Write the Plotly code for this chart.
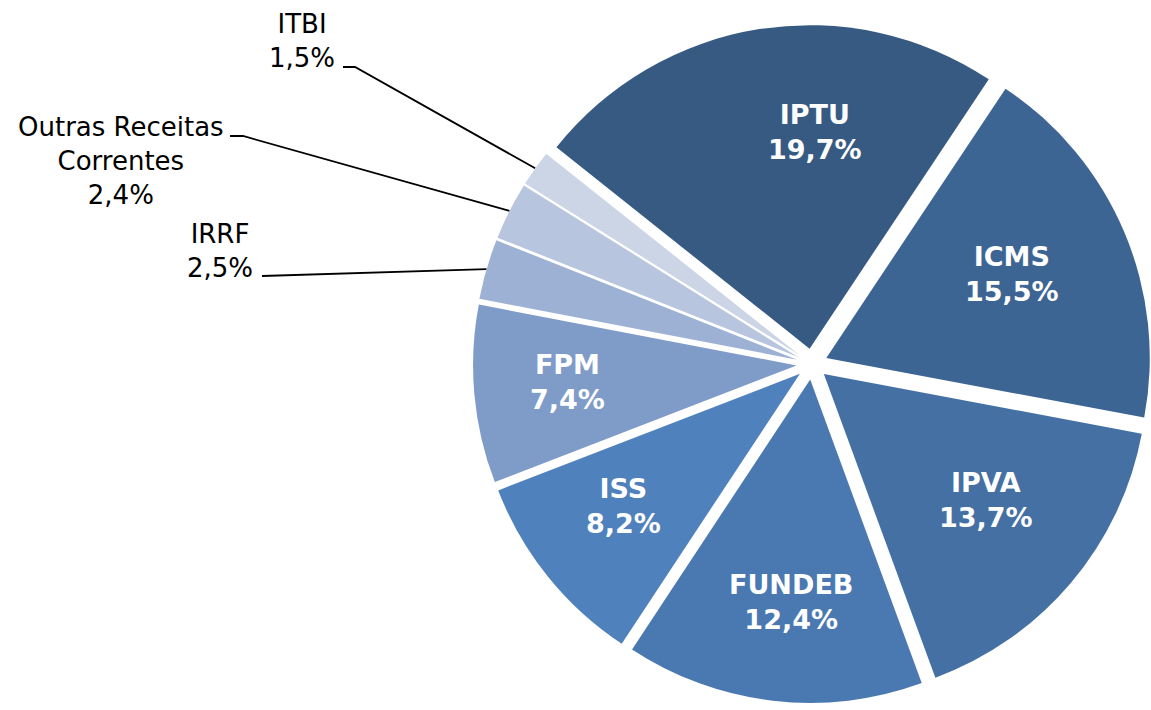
import math
import plotly.graph_objects as go

# ---- data ----
labels = ["IPTU", "ICMS", "IPVA", "FUNDEB", "ISS", "FPM", "IRRF",
          "Outras Receitas<br>Correntes", "ITBI"]
values = [19.7, 15.5, 13.7, 12.4, 8.2, 7.4, 2.5, 2.4, 1.5]
colors = ["#375A83", "#3D6594", "#4470A4", "#4A79B1", "#4F81BD",
          "#7F9BC8", "#9DB1D4", "#B7C5DF", "#CBD5E6"]
inside = [True, True, True, True, True, True, False, False, False]

# inside label placement: fraction of radius and angle offset (deg)
inside_frac = [0.67, 0.63, 0.635, 0.69, 0.68, 0.71, 0, 0, 0]
inside_off = [10.4, -1.6, -2.5, -1.8, 2.0, 1.1, 0, 0, 0]

# outside label block centres and leader-line start points (pixels)
outside_label_pos = {"IRRF": (220, 251),
                     "Outras Receitas<br>Correntes": (121, 161),
                     "ITBI": (302, 41)}
outside_leader_start = {"IRRF": [(262, 276)],
                        "Outras Receitas<br>Correntes": [(230, 136), (243, 136)],
                        "ITBI": [(343, 67), (355, 67)]}

# ---- layout settings ----
W, H = 1151, 710
ROT = -51.5
PULL = 0.048
DOM_X = [473 / W, 1.0]
DOM_Y = [(H - 703) / H, (H - 25) / H]


def fmt(v):
    return f"{v:.1f}%".replace(".", ",")


fig = go.Figure()
fig.add_trace(go.Pie(
    labels=labels, values=values, textinfo="none",
    sort=False, direction="clockwise", rotation=ROT,
    pull=[PULL] * len(values),
    marker=dict(colors=colors, line=dict(width=0)),
    domain=dict(x=DOM_X, y=DOM_Y),
    hoverinfo="skip", showlegend=False,
))

# geometry of the pie (same rule as plotly uses)
cx = W * (DOM_X[0] + DOM_X[1]) / 2
cy = H * (1 - (DOM_Y[0] + DOM_Y[1]) / 2)
r = min(W * (DOM_X[1] - DOM_X[0]), H * (DOM_Y[1] - DOM_Y[0])) / (2 * (1 + PULL))
total = sum(values)
acc = 0.0
for i, (lab, v) in enumerate(zip(labels, values)):
    mid_deg = ROT + (acc + v / 2) / total * 360
    acc += v
    mid = math.radians(mid_deg)
    if inside[i]:
        pcx = cx + r * PULL * math.sin(mid)
        pcy = cy - r * PULL * math.cos(mid)
        a = math.radians(mid_deg + inside_off[i])
        tx = pcx + inside_frac[i] * r * math.sin(a)
        ty = pcy - inside_frac[i] * r * math.cos(a)
        fig.add_annotation(x=tx, y=ty, xref="x", yref="y", showarrow=False,
                           text=f"<b>{lab}<br>{fmt(v)}</b>", align="center",
                           xanchor="center", yanchor="middle",
                           font=dict(family="DejaVu Sans", size=27, color="white"))
        continue
    ex = cx + r * (1 + PULL) * math.sin(mid)
    ey = cy - r * (1 + PULL) * math.cos(mid)
    pts = outside_leader_start[lab] + [(ex, ey)]
    fig.add_trace(go.Scatter(
        x=[p[0] for p in pts], y=[p[1] for p in pts], mode="lines",
        line=dict(color="black", width=1.8), hoverinfo="skip",
        showlegend=False, xaxis="x", yaxis="y"))
    lx, ly = outside_label_pos[lab]
    fig.add_annotation(x=lx, y=ly, xref="x", yref="y", showarrow=False,
                       text=f"{lab}<br>{fmt(v)}", align="center",
                       xanchor="center", yanchor="middle",
                       font=dict(family="DejaVu Sans", size=26, color="black"))

fig.update_layout(
    width=W, height=H, margin=dict(l=0, r=0, t=0, b=0),
    paper_bgcolor="white", plot_bgcolor="rgba(0,0,0,0)", showlegend=False,
    xaxis=dict(range=[0, W], visible=False, fixedrange=True, domain=[0, 1]),
    yaxis=dict(range=[H, 0], visible=False, fixedrange=True, domain=[0, 1]),
)

fig.write_html("out.html")
